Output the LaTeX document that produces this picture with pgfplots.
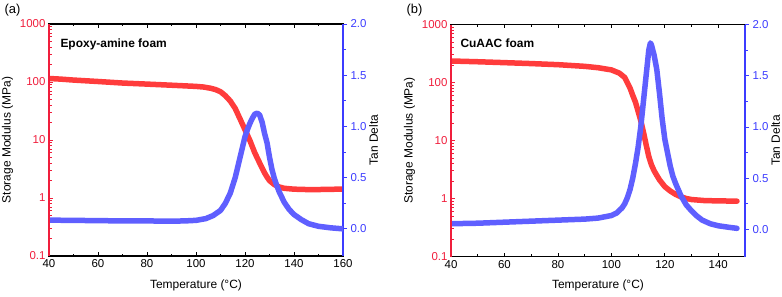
\documentclass[border=0pt]{standalone}
\usepackage{fontspec}
\setmainfont{Liberation Sans}
\usepackage{pgfplots}
\pgfplotsset{compat=1.18}
\definecolor{myred}{RGB}{255,60,60}
\definecolor{myblue}{RGB}{95,95,255}
\definecolor{axred}{RGB}{240,30,60}
\definecolor{axblue}{RGB}{60,60,255}
\pgfplotsset{
 mycommon/.style={scale only axis, width=294bp, height=232bp, xmin=40,
  /pgf/number format/assume math mode=true,
  tick label style={font=\fontsize{11.5}{13}\selectfont},
  label style={font=\fontsize{12}{14}\selectfont}},
 myleft/.style={mycommon, ymin=0.1, ymax=1000,
  ytick={0.1,1,10,100,1000}, yticklabels={0.1,1,10,100,1000},
  ytick pos=left, yticklabel style={text=axred},
  axis line style={draw=black, line width=1.3bp},
  xtick pos=both, xticklabel pos=bottom, tick align=inside, minor x tick num=1,
  ylabel={Storage Modulus (MPa)}, xlabel={Temperature (°C)},
  xlabel style={yshift=-5bp},
  major tick length=4bp, minor tick length=2.5bp,
  ytick style={axred, line width=0.8bp}, xtick style={black, line width=0.8bp}},
 myright/.style={mycommon, axis x line=none, axis y line*=right,
  ymin=-0.265, ymax=2, ytick={0,0.5,1,1.5,2}, minor y tick num=1,
  yticklabel style={text=axblue, /pgf/number format/fixed, /pgf/number format/fixed zerofill, /pgf/number format/precision=1},
  axis line style={draw=axblue, line width=1.3bp, -}, ytick style={axblue, line width=0.8bp},
  major tick length=4bp, minor tick length=2.5bp,
  tick align=outside, ylabel={Tan Delta}, ylabel shift=-4bp},
 redc/.style={draw=myred, line width=5.5bp, line join=round, line cap=round, mark=none},
 bluec/.style={draw=myblue, line width=5.5bp, line join=round, line cap=round, mark=none},
}
\begin{document}
\begin{tikzpicture}
\useasboundingbox (0,0) rectangle (782bp,-297bp);
% ---------- panel (a) ----------
\begin{axis}[ymode=log, myleft, xmax=160, xtick={40,60,...,160}, at={(49bp,-24bp)}, anchor=north west, name=A]
\addplot[redc] coordinates {
(40,115)(45,112)(50,108)(55,105)(60,102)(65,99)(70,96)(75,94)(80,92)(85,90)(90,88)(95,86)(100,84)
(103,82)(106,78)(108,74)(110,68)(112,58)(114,47)(116,35)(118,23)(120,15)(122,9.8)(124,6.0)
(126,4.0)(128,2.7)(129,2.3)(130,2.0)(132,1.7)(134,1.55)(136,1.47)(140,1.42)(145,1.40)(150,1.40)(155,1.41)(160,1.43)};
\end{axis}
\begin{axis}[myright, xmax=160, at={(49bp,-24bp)}, anchor=north west]
\addplot[bluec] coordinates {
(40,0.085)(50,0.083)(60,0.08)(70,0.078)(80,0.077)(90,0.076)(95,0.077)(100,0.083)(104,0.1)(107,0.13)
(110,0.18)(112,0.25)(114,0.35)(116,0.5)(118,0.7)(120,0.9)(121,0.97)(122,1.03)(123,1.08)(124,1.12)
(125,1.13)(126,1.11)(127,1.04)(128,0.93)(129,0.84)(130,0.70)(131,0.58)(132,0.49)(133,0.42)(134,0.36)
(136,0.26)(138,0.19)(140,0.14)(143,0.09)(146,0.05)(150,0.025)(155,0.01)(160,0.0)};
\end{axis}
% ---------- panel (b) ----------
\begin{axis}[ymode=log, myleft, xmax=150, xtick={40,60,...,140}, at={(451bp,-24.5bp)}, anchor=north west, name=B]
\addplot[redc] coordinates {
(40,235)(50,228)(60,220)(70,212)(80,203)(90,190)(95,180)(100,165)(103,145)(105,122)(107,80)(108,60)
(109,46)(110,32)(111,22)(112,14)(113,8.5)(114,5.3)(115,3.8)(116,3.0)(117,2.5)(118,2.1)(120,1.6)
(122,1.35)(124,1.18)(126,1.07)(128,1.0)(130,0.96)(135,0.92)(140,0.91)(147,0.90)};
\end{axis}
\begin{axis}[myright, xmax=150, at={(451bp,-24.5bp)}, anchor=north west]
\addplot[bluec] coordinates {
(40,0.055)(50,0.06)(60,0.07)(70,0.08)(80,0.09)(90,0.1)(95,0.11)(100,0.135)(102,0.16)(104,0.21)
(105,0.25)(106,0.31)(107,0.39)(108,0.5)(109,0.64)(110,0.8)(111,1.0)(112,1.25)(113,1.5)(114,1.75)
(114.6,1.82)(115,1.8)(116,1.7)(117,1.56)(118,1.33)(119,1.08)(120,0.88)(121,0.75)(122,0.62)(123,0.52)
(124,0.45)(125,0.39)(126,0.33)(128,0.24)(130,0.18)(132,0.13)(134,0.09)(137,0.055)(140,0.035)(144,0.02)(147,0.01)};
\end{axis}
% spines and texts drawn on top
\draw[draw=axred, line width=1.3bp] (A.south west) -- (A.north west);
\draw[draw=axred, line width=1.3bp] (B.south west) -- (B.north west);
\node[anchor=west, font=\fontsize{12}{14}\selectfont\bfseries] at ([xshift=8bp,yshift=-20bp]A.north west) {Epoxy-amine foam};
\node[anchor=west, font=\fontsize{13}{15}\selectfont] at ([xshift=-48bp,yshift=14bp]A.north west) {(a)};
\node[anchor=west, font=\fontsize{12}{14}\selectfont\bfseries] at ([xshift=6bp,yshift=-19bp]B.north west) {CuAAC foam};
\node[anchor=west, font=\fontsize{13}{15}\selectfont] at ([xshift=-48bp,yshift=14bp]B.north west) {(b)};
\end{tikzpicture}
\end{document}
